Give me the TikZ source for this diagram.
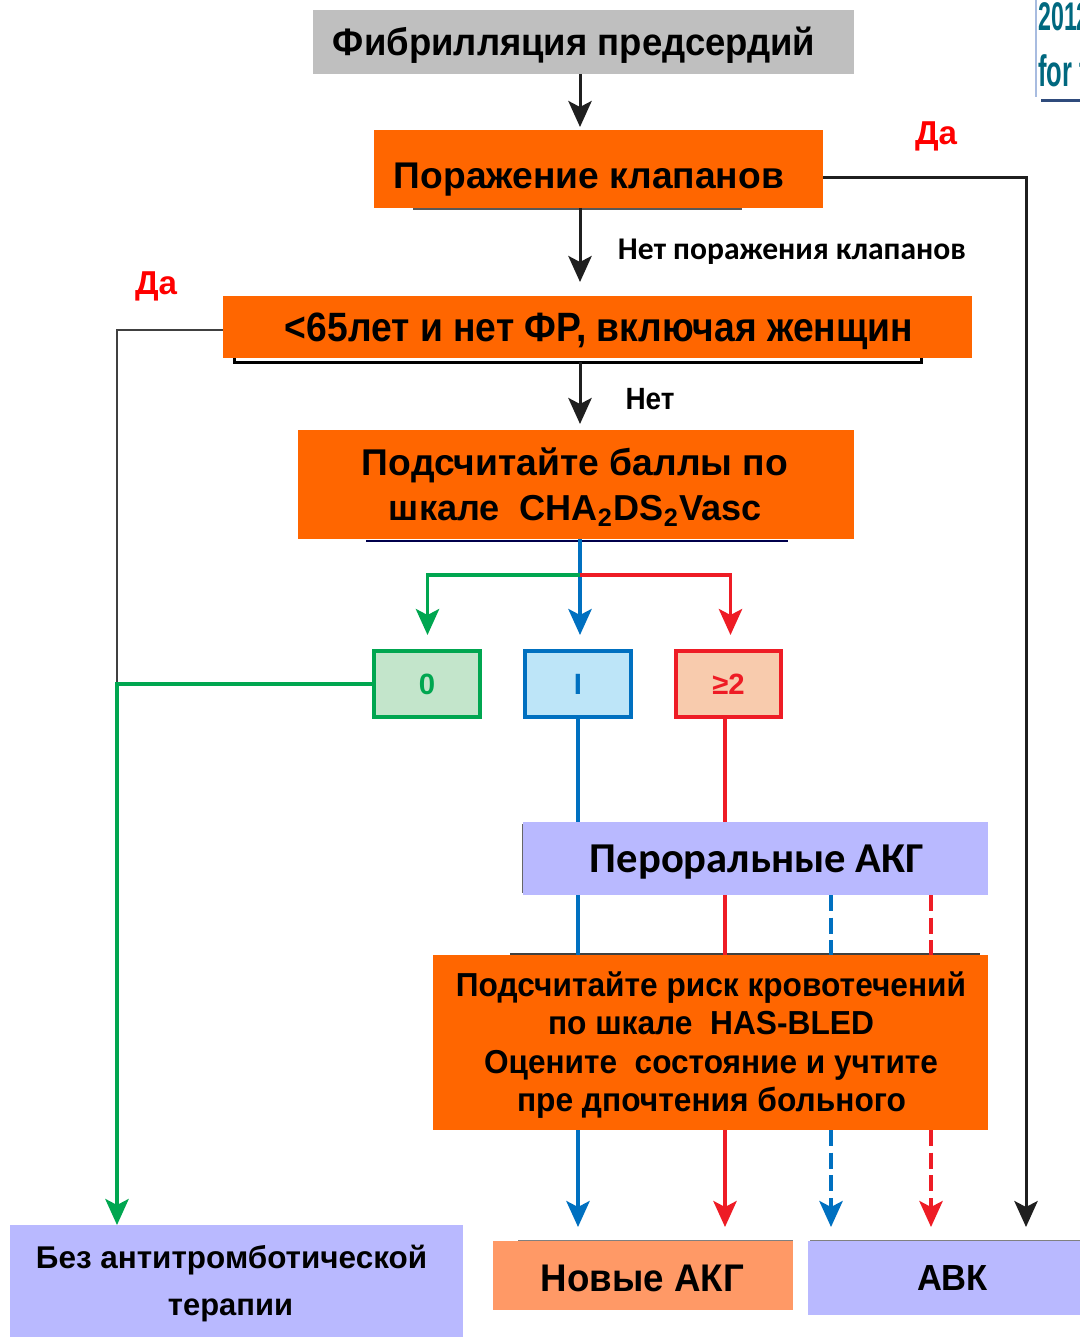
\documentclass[tikz,border=0pt]{standalone}
\usepackage{fontspec}
\usepackage{graphicx}
\setmainfont{Liberation Sans}
\newfontfamily\carl{Carlito}
\usetikzlibrary{arrows.meta,fit,calc}
\newdimen\pxu \pxu=0.75pt
\newcommand\ft[3]{\scalebox{1}[#2]{\resizebox{#1\pxu}{!}{\bfseries #3\vphantom{Йр}}}}
\definecolor{cOr}{HTML}{FF6600}
\definecolor{cGr}{HTML}{BFBFBF}
\definecolor{cLav}{HTML}{B9B9FF}
\definecolor{cSal}{HTML}{FF9966}
\definecolor{cGreen}{HTML}{00A650}
\definecolor{cBlue}{HTML}{0070C0}
\definecolor{cRed}{HTML}{EE1C25}
\definecolor{fZero}{HTML}{C3E5CB}
\definecolor{fOne}{HTML}{BDE5F8}
\definecolor{fTwo}{HTML}{F8CBAD}
\definecolor{cTeal}{HTML}{00687F}
\definecolor{cDark}{HTML}{1F1F1F}
\definecolor{cLeft}{HTML}{404040}
\definecolor{cVline}{HTML}{A8BCE0}
\definecolor{cHline}{HTML}{2F4B7C}
\begin{document}
\begin{tikzpicture}[x=0.75pt,y=-0.75pt,
  box/.style={inner sep=0pt, outer sep=0pt, rectangle, draw=none},
  sbox/.style={inner sep=0pt, outer sep=0pt, rectangle, line width=2.4pt},
  txt/.style={inner sep=0pt, anchor=center},
  tipA/.style={-{Stealth[length=19.5pt,width=17.5pt,inset=4.5pt]}},
  blk/.style={draw=cDark, line width=2.25pt},
  colline/.style={line width=2.6pt},
  dashline/.style={line width=2.6pt, dash pattern=on 12pt off 5pt},
  deco/.style={line width=1.5pt}]
\fill[white] (0,0) rectangle (1080,1337);
\useasboundingbox (0,0) rectangle (1080,1337);

% decorative edges
\draw[deco, draw=gray!70!black] (413,209) -- (742,209);
\draw[line width=2.25pt, draw=black] (234,357) -- (234,362) -- (921,362) -- (921,357);
\draw[deco, draw=black!70!blue] (366,541) -- (788,541);
\draw[deco, draw=black!75] (510,954) -- (980,954);
\draw[line width=0.9pt, draw=gray] (518,1240.5) -- (793,1240.5);
\draw[line width=0.9pt, draw=gray] (810,1240.5) -- (1080,1240.5);
\draw[line width=1.1pt, draw=gray!80!black] (522.5,824) -- (522.5,893);

% boxes
\node[box, fill=cGr, fit={(313,10)(854,74)}] (fib) {};
\node[box, fill=cOr, fit={(374,130)(823,208)}] (klap) {};
\node[box, fill=cOr, fit={(223,296)(972,358)}] (age) {};
\node[box, fill=cOr, fit={(298,430)(854,539)}] (cha) {};
\node[sbox, draw=cGreen, fill=fZero, fit={(374,651)(480,717)}] (s0) {};
\node[sbox, draw=cBlue, fill=fOne, fit={(525,651)(631,717)}] (s1) {};
\node[sbox, draw=cRed, fill=fTwo, fit={(676,651)(781,717)}] (s2) {};
\node[box, fill=cLav, fit={(523,822)(988,895)}] (oral) {};
\node[box, fill=cOr, fit={(433,955)(988,1130)}] (bleed) {};
\node[box, fill=cLav, fit={(10,1225)(463,1337)}] (none) {};
\node[box, fill=cSal, fit={(493,1241)(793,1310)}] (noac) {};
\node[box, fill=cLav, fit={(808,1241)(1080,1315)}] (vka) {};

% texts
\node[txt] (fibT) at (574,42) {\ft{482}{1.05}{Фибрилляция предсердий}};
\node[txt] (klapT) at (589,176) {\ft{390}{1}{Поражение клапанов}};
\node[txt, text=red] (daR) at (936,133) {\ft{42}{1}{Да}};
\node[txt] (netKl) at (792,249) {\carl\ft{348}{1}{Нет поражения клапанов}};
\node[txt, text=red] (daL) at (156,283) {\ft{42}{1}{Да}};
\node[txt] (ageT) at (599,327) {\ft{628}{1.1}{<65лет и нет ФР, включая женщин}};
\node[txt] (netT) at (650,399) {\ft{49}{1.1}{Нет}};
\node[txt] (chaA) at (575,463) {\ft{426}{1}{Подсчитайте баллы по}};
\node[txt] (chaB) at (575.5,508) {\ft{373}{1}{шкале\ \ CHA\textsubscript{2}DS\textsubscript{2}Vasc}};
\node[txt, text=cGreen] (t0) at (s0.center) {\fontsize{22}{22}\selectfont\bfseries 0};
\node[txt, text=cBlue] (t1) at (s1.center) {\fontsize{22}{22}\selectfont\bfseries I};
\node[txt, text=cRed] (t2) at (s2.center) {\fontsize{22}{22}\selectfont\bfseries ≥2};
\node[txt] (oralT) at (757,858) {\carl\ft{334}{1}{Пероральные АКГ}};
\node[txt] (blA) at (711,985) {\ft{510}{1.05}{Подсчитайте\ риск кровотечений}};
\node[txt] (blB) at (711,1023) {\ft{326}{1.05}{по шкале\ \ HAS-BLED}};
\node[txt] (blC) at (711,1062) {\ft{454}{1.05}{Оцените\ \ состояние и учтите}};
\node[txt] (blD) at (711.5,1100) {\ft{389}{1.05}{пре дпочтения\ больного}};
\node[txt] (noneA) at (231.5,1258) {\ft{391}{1}{Без антитромботической}};
\node[txt] (noneB) at (230.5,1305) {\ft{125}{1}{терапии}};
\node[txt] (noacT) at (642.5,1278) {\ft{203}{1.05}{Новые АКГ}};
\node[txt] (vkaT) at (952.5,1278) {\ft{71}{1.05}{АВК}};

% top-right fragment (cut off at the edge, as in the reference)
\draw[line width=1.5pt, draw=cVline] (1036,0) -- (1036,97);
\draw[line width=2.25pt, draw=cHline] (1041,100.5) -- (1080,100.5);
\begin{scope}
\clip (0,0) rectangle (1080,1337);
\node[inner sep=0pt, anchor=base west, text=cTeal] (yr) at (1038,31) {\scalebox{0.58}[1]{\fontsize{30}{30}\selectfont\bfseries 2012}};
\node[inner sep=0pt, anchor=base west, text=cTeal] (fort) at (1038,87) {\scalebox{0.58}[1]{\fontsize{33}{33}\selectfont\bfseries for t}};
\end{scope}

% coordinates
\coordinate (cA) at (580,0);
\coordinate (cR) at (1026,0);
\coordinate (cL) at (117,0);
\coordinate (br) at (580,575);
\coordinate (cB) at (578,0);
\coordinate (cRd) at (725,0);
\coordinate (cBd) at (831,0);
\coordinate (cRdd) at (931,0);

% black connectors
\draw[blk, tipA, shorten >=2.25pt] (fib.south -| cA) -- (klap.north -| cA);
\draw[blk, tipA, shorten >=10.5pt] (klap.south -| cA) -- (age.north -| cA);
\draw[blk, tipA, shorten >=4.5pt] ($(age.south -| cA)+(0,4)$) -- (cha.north -| cA);
\draw[blk, tipA, shorten >=10.5pt] ($(klap.east)+(0,9)$) -- ($(cR |- klap.east)+(0,9)$) -- (vka.north -| cR);
\draw[line width=1.9pt, draw=cLeft] ($(age.west)+(0,3)$) -- ($(cL |- age.west)+(0,3)$) -- (cL |- s0.west);

% CHA2DS2Vasc branches
\draw[colline, draw=cBlue, tipA, shorten >=12pt] (cha.south -| cA) -- (s1.north -| cA);
\draw[colline, draw=cGreen, tipA, shorten >=12pt] (br) -| ($(s0.north)+(0.5,0)$);
\draw[colline, draw=cRed, tipA, shorten >=12pt] (br) -| ($(s2.north)+(2,0)$);

% green to "none"
\draw[colline, draw=cGreen, tipA] (s0.west) -- (cL |- s0.west) -- (none.north -| cL);

% blue solid
\draw[colline, draw=cBlue] (s1.south -| cB) -- (oral.north -| cB);
\draw[colline, draw=cBlue] (oral.south -| cB) -- (bleed.north -| cB);
\draw[colline, draw=cBlue, tipA, shorten >=10.5pt] (bleed.south -| cB) -- (noac.north -| cB);
% red solid
\draw[colline, draw=cRed] (s2.south -| cRd) -- (oral.north -| cRd);
\draw[colline, draw=cRed] (oral.south -| cRd) -- (bleed.north -| cRd);
\draw[colline, draw=cRed, tipA, shorten >=10.5pt] (bleed.south -| cRd) -- (noac.north -| cRd);
% dashed
\draw[dashline, draw=cBlue] (oral.south -| cBd) -- (bleed.north -| cBd);
\draw[dashline, draw=cBlue, tipA, shorten >=10.5pt] (bleed.south -| cBd) -- (vka.north -| cBd);
\draw[dashline, draw=cRed] (oral.south -| cRdd) -- (bleed.north -| cRdd);
\draw[dashline, draw=cRed, tipA, shorten >=10.5pt] (bleed.south -| cRdd) -- (vka.north -| cRdd);
\end{tikzpicture}
\end{document}
